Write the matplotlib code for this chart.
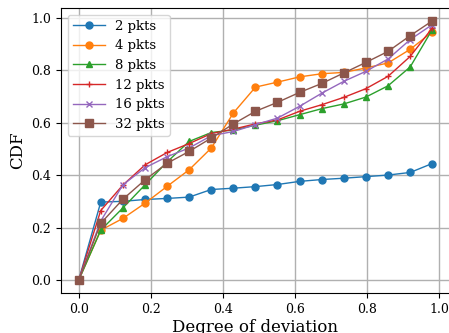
import numpy as np
import matplotlib
matplotlib.use('Agg')
import matplotlib.pyplot as plt

plt.rcParams['font.family'] = 'serif'
plt.rcParams['font.serif'] = ['DejaVu Serif']

x = [0.0, 0.061, 0.1225, 0.184, 0.245, 0.306, 0.3675, 0.429, 0.49,
     0.551, 0.6125, 0.674, 0.735, 0.796, 0.8575, 0.919, 0.98]

p2 = [0.0, 0.297, 0.30, 0.307, 0.311, 0.316, 0.345, 0.35, 0.356,
      0.364, 0.376, 0.383, 0.388, 0.394, 0.40, 0.41, 0.444]
p4 = [0.0, 0.19, 0.235, 0.293, 0.357, 0.42, 0.503, 0.637, 0.735,
      0.754, 0.774, 0.786, 0.791, 0.808, 0.827, 0.879, 0.945]
p8 = [0.0, 0.19, 0.275, 0.363, 0.45, 0.528, 0.562, 0.572, 0.59,
      0.607, 0.63, 0.653, 0.671, 0.697, 0.74, 0.812, 0.954]
p12 = [0.0, 0.265, 0.362, 0.439, 0.486, 0.52, 0.558, 0.575, 0.595,
       0.61, 0.643, 0.668, 0.696, 0.729, 0.776, 0.852, 0.96]
p16 = [0.0, 0.225, 0.363, 0.428, 0.47, 0.503, 0.55, 0.566, 0.592,
       0.617, 0.662, 0.712, 0.757, 0.795, 0.842, 0.916, 0.973]
p32 = [0.0, 0.216, 0.308, 0.382, 0.445, 0.49, 0.541, 0.595, 0.643,
       0.677, 0.715, 0.749, 0.789, 0.829, 0.871, 0.931, 0.987]

series = [(p2, '2 pkts', 'o'), (p4, '4 pkts', 'o'), (p8, '8 pkts', '^'),
          (p12, '12 pkts', '+'), (p16, '16 pkts', 'x'), (p32, '32 pkts', 's')]

fig = plt.figure(figsize=(4.49, 3.33), dpi=100)
ax = fig.add_axes([0.136, 0.12, 0.866, 0.856])
for y, lab, m in series:
    ms = 6 if m == 's' else 5
    ax.plot(x, y, marker=m, markersize=ms, linewidth=1, label=lab)

ax.set_xticks([0.0, 0.2, 0.4, 0.6, 0.8, 1.0])
ax.set_yticks([0.0, 0.2, 0.4, 0.6, 0.8, 1.0])
ax.tick_params(labelsize=9)
ax.grid(True, linewidth=1)
ax.set_xlabel('Degree of deviation', fontsize=12, labelpad=2)
ax.set_ylabel('CDF', fontsize=12)
ax.legend(loc='upper left', fontsize=9.5, handlelength=2.4)

fig.savefig('out.png', dpi=100)
